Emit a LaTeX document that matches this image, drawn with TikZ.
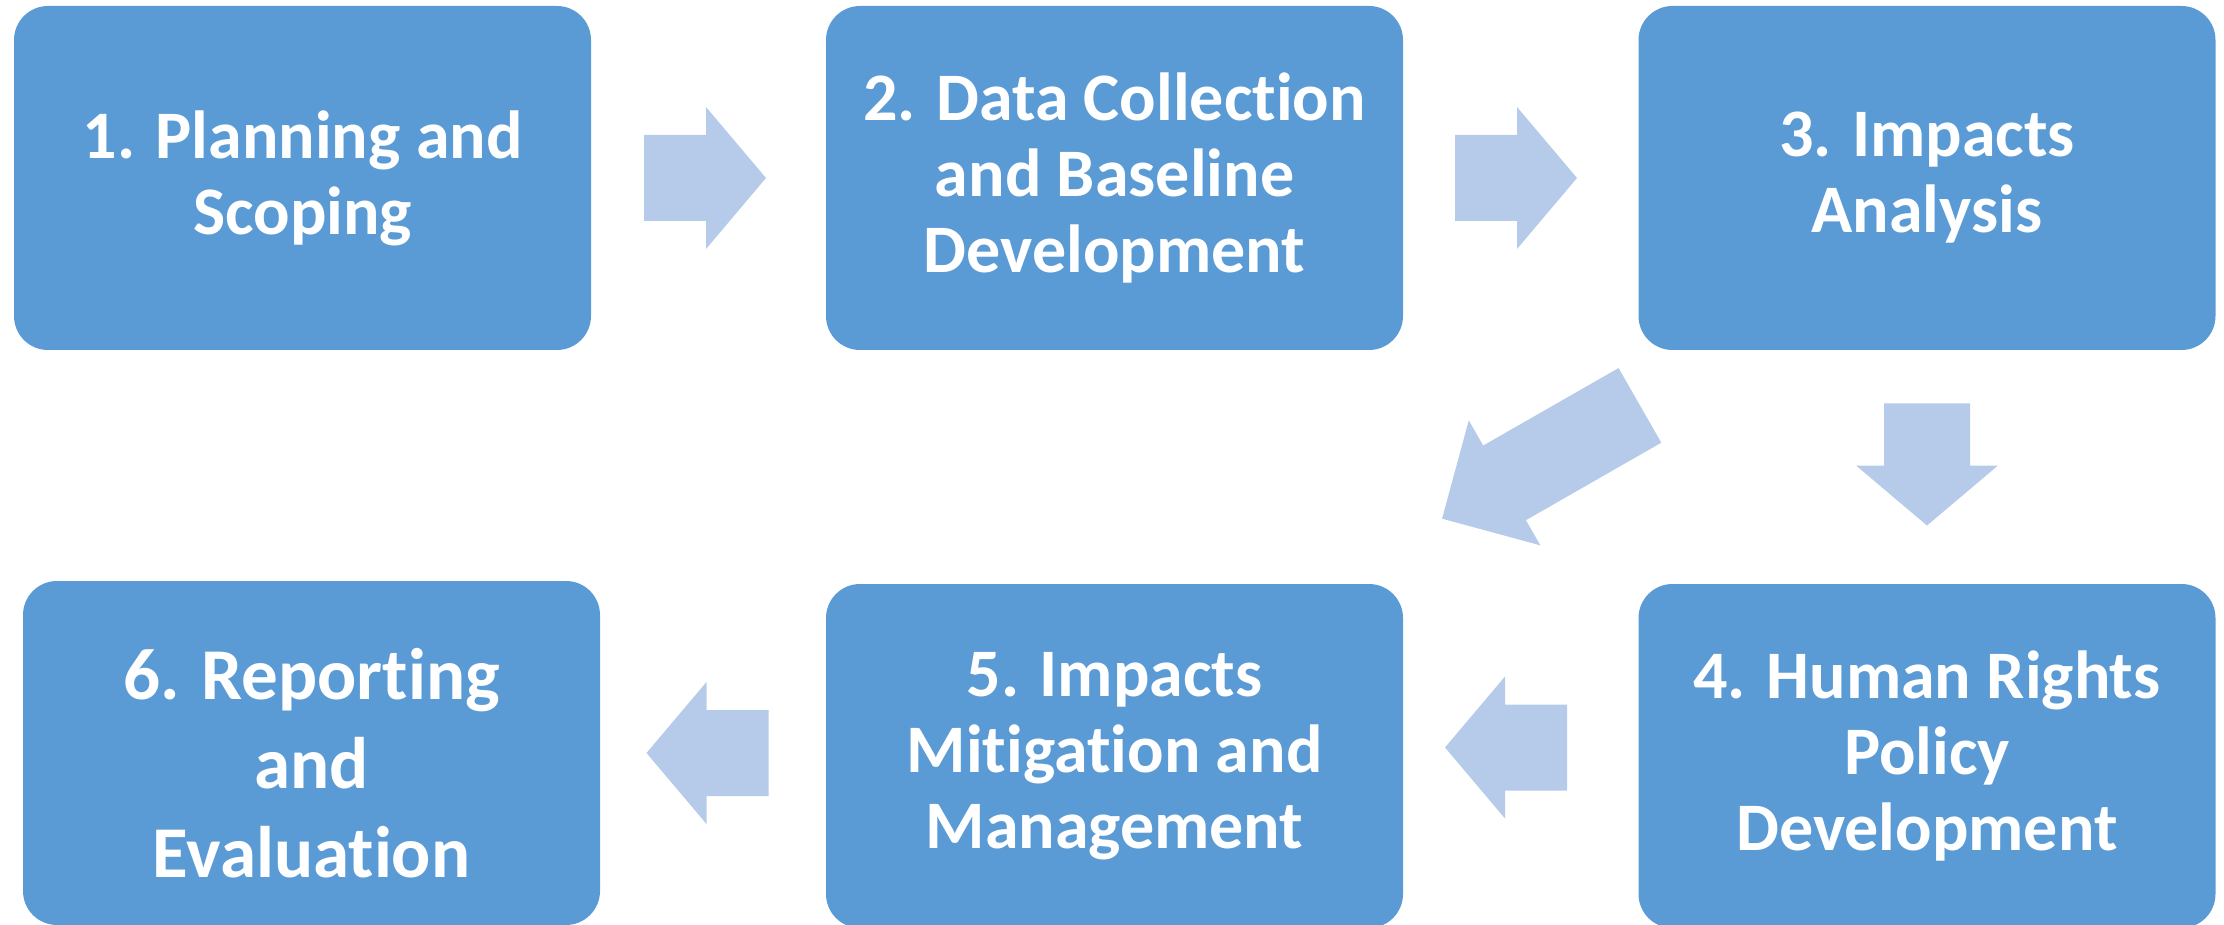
\documentclass[tikz,border=0pt]{standalone}
\usepackage{fontspec}
\setmainfont[RawFeature={-liga}]{Carlito}
\definecolor{boxblue}{RGB}{91,155,213}
\definecolor{arrowblue}{RGB}{181,203,233}
\tikzset{
  stage/.style={fill=boxblue, rounded corners=17pt, minimum width=288.5pt,
    minimum height=172pt, inner sep=0pt, text=white, align=center,
    font=\bfseries\fontsize{34}{38}\selectfont},
  arrowshape/.style={fill=arrowblue},
}
\begin{document}
\begin{tikzpicture}[x=0.5pt, y=-0.5pt]
\useasboundingbox (0,0) rectangle (2224,925);
% stages
\node[stage] (b1) at (302.5,178) {1. Planning and\\Scoping};
\node[stage] (b2) at (1114.5,178) {2. Data Collection\\and Baseline\\Development};
\node[stage] (b3) at (1927,178) {3. Impacts\\Analysis};
\node[stage] (b4) at (1927,756) {4. Human Rights\\Policy\\Development};
\node[stage] (b5) at (1114.5,756) {5. Impacts\\Mitigation and\\Management};
\node[stage, font=\bfseries\fontsize{36.5}{44.5}\selectfont] (b6) at (311.5,753) {\rule{0pt}{35.5pt}6. Reporting\\and\\Evaluation};
% arrow anchor points
\coordinate (a12) at (705,178);
\coordinate (a23) at (1516,178);
\coordinate (a34) at (1927,464.5);
\coordinate (a35) at (1541,462);
\coordinate (a45) at (1506,747.5);
\coordinate (a56) at (707.5,753);
% straight block arrows
\foreach \c/\r in {a12/0, a23/0, a34/-90, a45/180, a56/180}{
  \begin{scope}[shift={(\c)}, rotate=\r]
    \fill[arrowshape] (-61,-43) -- (1,-43) -- (1,-71) -- (61,0) -- (1,71) -- (1,43) -- (-61,43) -- cycle;
  \end{scope}
}
% diagonal block arrow
\begin{scope}[shift={(a35)}, rotate=209.8]
  \fill[arrowshape] (-114,-43) -- (42,-43) -- (42,-72) -- (114,0) -- (42,72) -- (42,43) -- (-114,43) -- cycle;
\end{scope}
\end{tikzpicture}
\end{document}
